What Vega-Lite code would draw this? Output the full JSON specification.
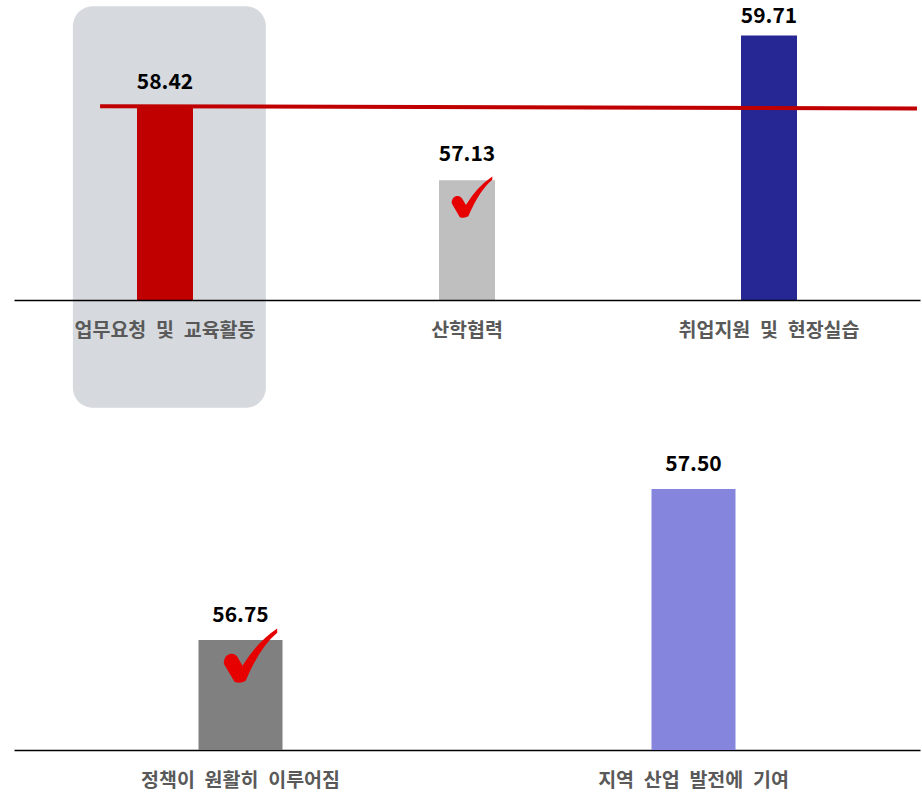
{
  "$schema": "https://vega.github.io/schema/vega-lite/v6.json",
  "padding": {"left": 14, "top": 0, "right": 2, "bottom": 45},
  "bounds": "flush",
  "spacing": 140,
  "background": "white",
  "resolve": {"scale": {"color": "independent", "x": "independent", "y": "independent"}},
  "config": {
    "view": {"stroke": null},
    "font": "Noto Sans CJK KR",
    "axis": {
      "domainColor": "black",
      "domainWidth": 1.5,
      "ticks": false,
      "grid": false,
      "title": null,
      "labelAngle": 0,
      "labelPadding": 21,
      "labelFont": "Noto Sans CJK KR",
      "labelFontSize": 19.5,
      "labelFontWeight": "bold",
      "labelColor": "#595959",
      "labelLimit": 0,
      "labelExpr": "replace(replace(replace(datum.label, ' ', '\u2002'), ' ', '\u2002'), ' ', '\u2002')"
    }
  },
  "vconcat": [
    {
      "width": 906,
      "height": 300,
      "data": {"values": [
        {"category": "업무요청 및 교육활동", "value": 58.42, "highlight": true, "check": false},
        {"category": "산학협력", "value": 57.13, "highlight": false, "check": true},
        {"category": "취업지원 및 현장실습", "value": 59.71, "highlight": false, "check": false}
      ]},
      "layer": [
        {
          "transform": [{"filter": "datum.highlight"}],
          "mark": {"type": "rect", "cornerRadius": 20, "color": "#D6D9DE"},
          "encoding": {
            "x": {"field": "category", "type": "nominal", "sort": null, "bandPosition": 0.195, "scale": {"paddingInner": 0, "paddingOuter": 0}},
            "x2": {"field": "category", "bandPosition": 0.834},
            "y": {"datum": 60.23, "type": "quantitative"},
            "y2": {"datum": 53.08}
          }
        },
        {
          "mark": {"type": "bar", "width": 56},
          "encoding": {
            "x": {"field": "category", "type": "nominal", "sort": null, "scale": {"paddingInner": 0, "paddingOuter": 0}},
            "y": {"field": "value", "type": "quantitative", "scale": {"domain": [55, 60.34], "nice": false, "zero": false}, "axis": null},
            "y2": {"datum": 55},
            "color": {"field": "category", "type": "nominal", "legend": null,
              "scale": {"domain": ["업무요청 및 교육활동", "산학협력", "취업지원 및 현장실습"], "range": ["#C00000", "#BFBFBF", "#262694"]}}
          }
        },
        {
          "transform": [{"filter": "datum.highlight"}],
          "mark": {"type": "rule", "color": "#C00000", "strokeWidth": 4},
          "encoding": {
            "x": {"datum": "업무요청 및 교육활동", "type": "nominal", "bandPosition": 0.285},
            "x2": {"datum": "취업지원 및 현장실습", "bandPosition": 0.99},
            "y": {"datum": 58.45, "type": "quantitative"},
            "y2": {"datum": 58.41}
          }
        },
        {
          "transform": [{"filter": "datum.value < 59.5"}],
          "mark": {"type": "text", "baseline": "alphabetic", "dy": -19, "fontSize": 21, "fontWeight": "bold", "color": "black"},
          "encoding": {
            "x": {"field": "category", "type": "nominal", "sort": null},
            "y": {"field": "value", "type": "quantitative"},
            "text": {"field": "value", "type": "quantitative", "format": ".2f"}
          }
        },
        {
          "transform": [{"filter": "datum.value >= 59.5"}],
          "mark": {"type": "text", "baseline": "alphabetic", "dy": -12, "fontSize": 21, "fontWeight": "bold", "color": "black"},
          "encoding": {
            "x": {"field": "category", "type": "nominal", "sort": null},
            "y": {"field": "value", "type": "quantitative"},
            "text": {"field": "value", "type": "quantitative", "format": ".2f"}
          }
        },
        {
          "transform": [{"filter": "datum.check"}],
          "mark": {"type": "point", "filled": true, "opacity": 1, "strokeWidth": 0, "color": "#E60000", "size": 1650, "xOffset": 5, "yOffset": 16.5,
            "shape": "M -0.6 1.0 L -1.0 0.32 Q -1.0 0.02 -0.78 -0.04 Q -0.55 -0.08 -0.45 0.14 L -0.3 0.4 Q 0.25 -0.5 1.0 -1.0 L 1.0 -0.84 Q 0.35 -0.3 -0.18 0.96 Q -0.38 1.08 -0.6 1.0 Z"},
          "encoding": {
            "x": {"field": "category", "type": "nominal", "sort": null},
            "y": {"field": "value", "type": "quantitative"}
          }
        }
      ]
    },
    {
      "width": 906,
      "height": 310,
      "data": {"values": [
        {"category": "정책이 원활히 이루어짐", "value": 56.75, "check": true},
        {"category": "지역 산업 발전에 기여", "value": 57.50, "check": false}
      ]},
      "encoding": {
        "x": {"field": "category", "type": "nominal", "sort": null, "scale": {"paddingInner": 0, "paddingOuter": 0}},
        "y": {"field": "value", "type": "quantitative", "scale": {"domain": [56.204, 57.744], "nice": false, "zero": false}, "axis": null}
      },
      "layer": [
        {
          "mark": {"type": "bar", "width": 84},
          "encoding": {
            "y2": {"datum": 56.204},
            "color": {"field": "category", "type": "nominal", "legend": null,
              "scale": {"domain": ["정책이 원활히 이루어짐", "지역 산업 발전에 기여"], "range": ["#808080", "#8585DE"]}}
          }
        },
        {
          "mark": {"type": "text", "baseline": "alphabetic", "dy": -18, "fontSize": 21, "fontWeight": "bold", "color": "black"},
          "encoding": {
            "text": {"field": "value", "type": "quantitative", "format": ".2f"}
          }
        },
        {
          "transform": [{"filter": "datum.check"}],
          "mark": {"type": "point", "filled": true, "opacity": 1, "strokeWidth": 0, "color": "#E60000", "size": 2850, "xOffset": 10, "yOffset": 15,
            "shape": "M -0.6 1.0 L -1.0 0.32 Q -1.0 0.02 -0.78 -0.04 Q -0.55 -0.08 -0.45 0.14 L -0.3 0.4 Q 0.25 -0.5 1.0 -1.0 L 1.0 -0.84 Q 0.35 -0.3 -0.18 0.96 Q -0.38 1.08 -0.6 1.0 Z"},
          "encoding": {}
        }
      ]
    }
  ]
}
